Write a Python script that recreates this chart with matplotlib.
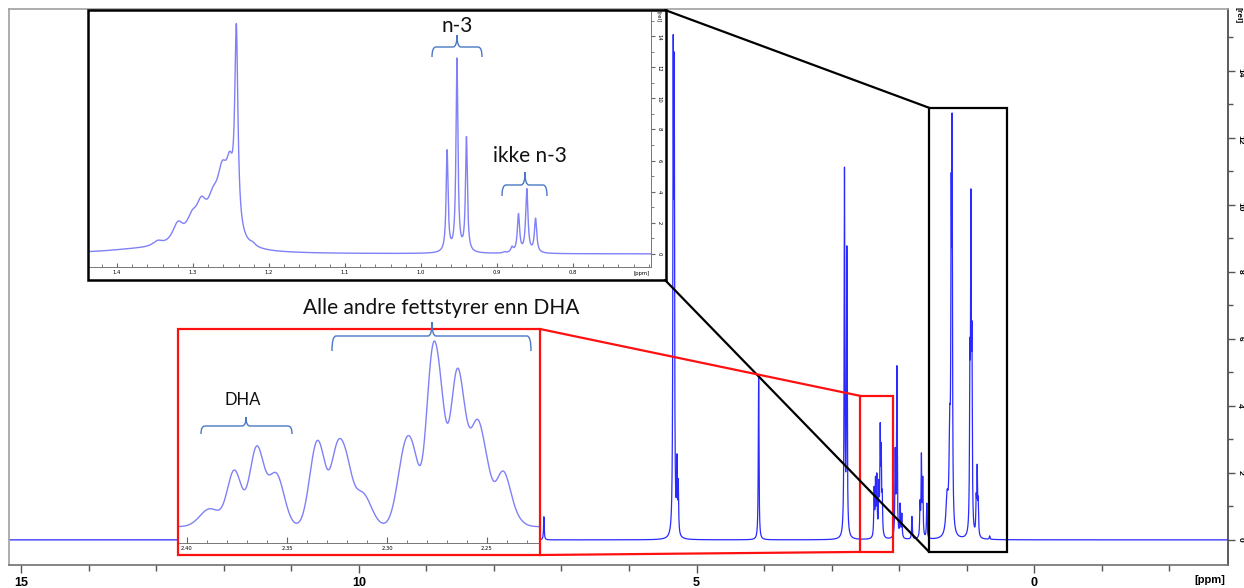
import numpy as np
import matplotlib.pyplot as plt
from matplotlib.patches import Rectangle, ConnectionPatch, PathPatch
from matplotlib.path import Path
from matplotlib.transforms import Affine2D
from matplotlib.ticker import MultipleLocator, FixedLocator, FormatStrFormatter

W, H = 1244, 588

# full 1H spectrum: line positions [ppm], heights [rel], half widths [ppm]
main_ppm = [7.26, 5.345, 5.33, 5.29, 5.27, 4.08, 2.809, 2.774,
            2.37, 2.35, 2.33, 2.30, 2.28, 2.265, 2.25,
            2.058, 2.033, 1.985, 1.96, 1.81, 1.69, 1.67, 1.65, 1.59,
            1.29, 1.25, 1.229, 1.215, 0.952, 0.937, 0.922,
            0.859, 0.844, 0.829, 0.66]
main_int = [0.69, 15.06, 14.54, 2.57, 1.83, 4.92, 11.13, 8.78,
            1.6, 1.9, 2.0, 1.8, 3.5, 2.9, 1.5,
            2.76, 5.2, 1.1, 0.8, 0.7, 1.2, 2.6, 1.9, 1.1,
            1.5, 4.0, 10.94, 12.72, 6.0, 10.48, 6.5,
            1.4, 2.26, 1.3, 0.12]
main_hw = [0.006] * len(main_ppm)
main_hw[main_ppm.index(1.29)] = 0.02
main_hw[main_ppm.index(1.25)] = 0.012

# methyl / methylene region (0.7 - 1.45 ppm), Lorentzian lines
zoom1_ppm = [1.369, 1.3465, 1.32, 1.3015, 1.289, 1.274, 1.2615, 1.2515, 1.243,
             1.2215, 0.9655, 0.9525, 0.94, 0.89, 0.88, 0.8715, 0.8605, 0.849]
zoom1_int = [0.43, 0.88, 2.1, 2.8, 3.7, 4.3, 6.0, 6.6, 14.8,
             0.8, 6.7, 12.6, 7.55, 0.15, 0.5, 2.6, 4.2, 2.3]
zoom1_hw = [0.06, 0.008, 0.009, 0.009, 0.009, 0.009, 0.009, 0.006, 0.0025,
            0.004, 0.0015, 0.0015, 0.0015, 0.002, 0.002, 0.0018, 0.0018, 0.0018]

# allylic / alpha-carbonyl region (2.22 - 2.40 ppm), Gaussian lines
zoom2_ppm = [2.3885, 2.3763, 2.3652, 2.3555, 2.3355, 2.332, 2.3252, 2.3205,
             2.3125, 2.2905, 2.2858, 2.2777, 2.2732, 2.2655, 2.2612, 2.2552,
             2.2505, 2.2423, 2.2385]
zoom2_int = [1.8, 5.67, 8.07, 5.4, 8.43, 7.2, 8.33, 7.6,
             3.5, 8.83, 7.3, 17.5, 15.0, 15.5, 12.2, 10.73,
             7.5, 5.57, 3.8]
zoom2_sd = [0.005, 0.0035, 0.0035, 0.004, 0.0035, 0.003, 0.003, 0.003,
            0.0045, 0.004, 0.003, 0.003, 0.003, 0.003, 0.003, 0.003,
            0.003, 0.0035, 0.0045]


def lorentz(d, w):
    return 1.0 / (1.0 + (d / w) ** 2)


def gauss(d, w):
    return np.exp(-0.5 * (d / w) ** 2)


def line_sum(x, pos, hgt, wid, shape=lorentz):
    # amplitudes chosen so the summed trace passes through each listed height
    pos, hgt, wid = map(np.asarray, (pos, hgt, wid))
    A = shape(pos[:, None] - pos[None, :], wid[None, :])
    amp = np.linalg.solve(A, hgt)
    y = np.zeros_like(x)
    for p, a, w in zip(pos, amp, wid):
        y += a * shape(x - p, w)
    return y


def frac(x0, y0, x1, y1):
    return [x0 / W, 1 - y1 / H, (x1 - x0) / W, (y1 - y0) / H]


fig = plt.figure(figsize=(W / 100, H / 100), dpi=100)
fig.patch.set_facecolor("white")
pix = Affine2D().scale(1 / W, -1 / H).translate(0, 1) + fig.transFigure

tick_font = dict(family="Liberation Sans", weight="bold")
note_font = "Lato"
inset_blue = "#8080f8"

#
# full spectrum
#
ax = fig.add_axes(frac(9, 9, 1228, 565))
x = np.linspace(15.2, -2.9, 80000)
ax.plot(x, line_sum(x, main_ppm, main_int, main_hw), color="#2a2aff", lw=0.9)
ax.set_xlim(15.18, -2.87)
ax.set_ylim(-0.75, 15.85)
ax.yaxis.tick_right()
ax.xaxis.set_major_locator(MultipleLocator(5))
ax.xaxis.set_minor_locator(MultipleLocator(1))
ax.yaxis.set_major_locator(MultipleLocator(2))
ax.yaxis.set_minor_locator(MultipleLocator(1))
ax.tick_params(axis="x", which="major", length=6, width=1, color="#555555")
ax.tick_params(axis="x", which="minor", length=4, width=1, color="#555555")
ax.tick_params(axis="y", which="major", length=5, width=1, color="#555555")
ax.tick_params(axis="y", which="minor", length=3.5, width=1, color="#555555")
ax.tick_params(axis="x", labelsize=9, pad=3)
ax.tick_params(axis="y", labelsize=6, labelrotation=-90, pad=1)
for t in ax.get_xticklabels() + ax.get_yticklabels():
    t.set_fontfamily(tick_font["family"])
    t.set_fontweight("bold")
for side, c in [("left", "#a0a0a0"), ("top", "#a0a0a0"),
                ("bottom", "#707070"), ("right", "#404040")]:
    ax.spines[side].set_color(c)
    ax.spines[side].set_linewidth(1.2)
fig.text(1210 / W, 1 - 580 / H, "[ppm]", ha="center", va="center",
         fontsize=8, **tick_font)
fig.text(1238 / W, 1 - 15 / H, "[rel]", ha="center", va="center",
         rotation=-90, fontsize=6, **tick_font)

# zoom windows marked on the full spectrum
ax.add_patch(Rectangle((0.40, -0.36), 1.155, 13.26, fill=False,
                       ec="black", lw=1.6, zorder=4))
ax.add_patch(Rectangle((2.088, -0.36), 0.489, 4.66, fill=False,
                       ec="#ff1010", lw=1.6, zorder=4))

#
# inset 1: 0.7 - 1.45 ppm
#
fig.add_artist(Rectangle((88, 10), 578, 270, transform=pix, fc="white",
                         ec="none", zorder=1.5))
bx = fig.add_axes(frac(89, 12, 651, 267), zorder=2)
xb = np.linspace(1.45, 0.68, 20000)
bx.plot(xb, line_sum(xb, zoom1_ppm, zoom1_int, zoom1_hw),
        color=inset_blue, lw=1.0)
bx.set_xlim(1.437, 0.697)
bx.set_ylim(-0.84, 15.55)
bx.yaxis.tick_right()
bx.xaxis.set_major_locator(FixedLocator([1.4, 1.3, 1.2, 1.1, 1.0, 0.9, 0.8]))
bx.xaxis.set_minor_locator(MultipleLocator(0.02))
bx.xaxis.set_major_formatter(FormatStrFormatter("%.1f"))
bx.yaxis.set_major_locator(FixedLocator([0, 2, 4, 6, 8, 10, 12, 14]))
bx.yaxis.set_minor_locator(MultipleLocator(1))
bx.tick_params(axis="x", which="both", direction="in", color="#666666",
               labelsize=3.8, pad=2)
bx.tick_params(axis="x", which="major", length=3)
bx.tick_params(axis="x", which="minor", length=2)
bx.tick_params(axis="y", which="both", direction="out", color="#666666",
               labelsize=3.8, labelrotation=-90, pad=1)
bx.tick_params(axis="y", which="major", length=3)
bx.tick_params(axis="y", which="minor", length=2)
for s in ("left", "top"):
    bx.spines[s].set_visible(False)
for s in ("bottom", "right"):
    bx.spines[s].set_color("#777777")
    bx.spines[s].set_linewidth(0.7)
fig.text(642 / W, 1 - 274 / H, "[ppm]", ha="center", va="center", fontsize=3.8)
fig.text(659 / W, 1 - 17 / H, "[rel]", ha="center", va="center",
         rotation=-90, fontsize=3.8)
fig.add_artist(Rectangle((88, 10), 578, 270, transform=pix, fill=False,
                         ec="black", lw=1.8, zorder=3))

#
# inset 2: 2.22 - 2.40 ppm
#
fig.add_artist(Rectangle((178, 329), 362, 226, transform=pix, fc="white",
                         ec="none", zorder=1.5))
rx = fig.add_axes(frac(179, 330, 539, 543), zorder=2)
xr = np.linspace(2.41, 2.22, 8000)
rx.plot(xr, line_sum(xr, zoom2_ppm, zoom2_int, zoom2_sd, gauss),
        color=inset_blue, lw=1.0)
rx.set_xlim(2.404, 2.224)
rx.set_ylim(-1.63, 19.67)
rx.xaxis.set_major_locator(FixedLocator([2.40, 2.35, 2.30, 2.25]))
rx.xaxis.set_minor_locator(MultipleLocator(0.01))
rx.xaxis.set_major_formatter(FormatStrFormatter("%.2f"))
rx.set_yticks([])
rx.tick_params(axis="x", which="both", direction="in", color="#666666",
               labelsize=3.8, pad=2)
rx.tick_params(axis="x", which="major", length=4)
rx.tick_params(axis="x", which="minor", length=2.5)
for s in ("left", "top", "right"):
    rx.spines[s].set_visible(False)
rx.spines["bottom"].set_color("#777777")
rx.spines["bottom"].set_linewidth(0.7)
fig.add_artist(Rectangle((178, 329), 362, 226, transform=pix, fill=False,
                         ec="#ff1010", lw=1.6, zorder=3))

# lines tying each inset to its window
for a, b, c in [((665, 10), (1.555, 12.9), "black"),
                ((665, 280), (1.555, -0.36), "black"),
                ((540, 329), (2.577, 4.3), "#ff1010"),
                ((540, 555), (2.577, -0.36), "#ff1010")]:
    cp = ConnectionPatch(xyA=(a[0] / W, 1 - a[1] / H), coordsA=fig.transFigure,
                         xyB=b, coordsB=ax.transData, color=c, lw=1.6, zorder=3)
    fig.add_artist(cp)


#
# brackets and labels
#
def brace(x0, x1, xc, yh, yend, ytip, r=4):
    verts = [(x0, yend), (x0, yh), (x0 + r, yh),
             (xc - r, yh), (xc, yh), (xc, ytip),
             (xc, yh), (xc + r, yh),
             (x1 - r, yh), (x1, yh), (x1, yend)]
    codes = [Path.MOVETO, Path.CURVE3, Path.CURVE3,
             Path.LINETO, Path.CURVE3, Path.CURVE3,
             Path.CURVE3, Path.CURVE3,
             Path.LINETO, Path.CURVE3, Path.CURVE3]
    fig.add_artist(PathPatch(Path(verts, codes), transform=pix, fill=False,
                             ec="#4a78c4", lw=1.0, zorder=4))


brace(432, 482, 457, 47, 57, 35)
brace(502, 547, 525, 185, 196, 172)
brace(332, 531, 432, 336, 351, 322)
brace(201, 292, 246, 426, 434, 417)

fig.text(457 / W, 1 - 26 / H, "n-3", ha="center", va="center",
         fontsize=15, family=note_font, color="#111111", zorder=4)
fig.text(530 / W, 1 - 156 / H, "ikke n-3", ha="center", va="center",
         fontsize=15, family=note_font, color="#111111", zorder=4)
fig.text(441 / W, 1 - 308 / H, "Alle andre fettstyrer enn DHA", ha="center",
         va="center", fontsize=15, family=note_font, color="#111111", zorder=4)
fig.text(243 / W, 1 - 400 / H, "DHA", ha="center", va="center",
         fontsize=12, family=note_font, color="#111111", zorder=4)

fig.savefig("out.png", dpi=100, facecolor="white")
